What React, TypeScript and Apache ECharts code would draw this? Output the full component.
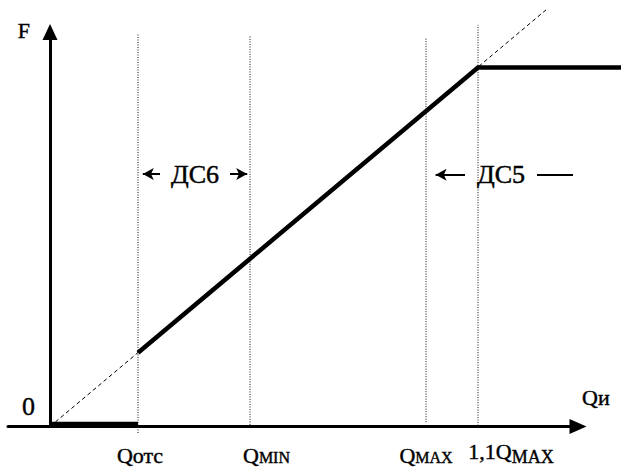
import React, { useEffect, useRef } from 'react';
import * as echarts from 'echarts';

const FONT = "'Liberation Serif', 'Times New Roman', serif";

// characteristic flow values on the Q axis (tick labels)
const qMain = ['Qотс', 'Q', 'Q', '1,1Q'];
const qSmall = ['', 'MIN', 'MAX', 'MAX'];
const qValues = [22, 50, 94, 107];
const qLineTop = [99.7, 99.2, 98.5, 101.8];
const qLineBottom = [-1.65, 0.4, 1.1, -0.4];

// F(Q) characteristic
const zeroPart: number[][] = [[0, 0.6], [22, 0.6]];
const risingPart: number[][] = [[22, 18.7], [107, 91], [144, 91]];
const proportional: number[][] = [[0, 0], [124, 105.6]];

// zone annotations
const zoneNames = ['ДС6', 'ДС5'];
const zoneCenters: number[][] = [[36.25, 64], [112.75, 63.8]];
const zoneArrows: number[][][] = [
  [[27.5, 64], [23.2, 64]],
  [[45, 64], [49.3, 64]],
  [[103.75, 63.8], [96.4, 63.8]],
];
const zoneDash: number[][] = [[121.75, 63.8], [130.75, 63.8]];

const X_MIN = -10.5;
const X_MAX = 132;
const X_MAX_FULL = 142.75;
const Y_MIN = 0;
const Y_MAX = 100;

// nudges of the Q tick labels (px)
const qLabelShift = [2, 16.5, 0, 33];
const qLabelLift = [0, 0, 0, -3.5];

export default function App() {
  const ref = useRef<HTMLDivElement>(null);
  useEffect(() => {
    if (!ref.current) return;
    const chart = echarts.init(ref.current, undefined, { renderer: 'svg' });
    const ink = { textBorderColor: '#000', textBorderWidth: 0.4 };
    const txt = { fontFamily: FONT, color: '#000' };
    const txtInk = { ...txt, ...ink };
    const gridBase = { left: 8, top: 32, bottom: 45.5, containLabel: false, outerBoundsMode: 'none' };
    const option: any = {
      animation: false,
      grid: [
        { ...gridBase, right: 43 },
        { ...gridBase, right: 0 },
      ],
      xAxis: [
        {
          type: 'value',
          gridIndex: 0,
          min: X_MIN,
          max: X_MAX,
          name: '{n|Qи}',
          nameLocation: 'end',
          nameGap: 4,
          nameTextStyle: {
            ...txt,
            align: 'left',
            verticalAlign: 'bottom',
            padding: [0, 0, 18, 0],
            rich: { n: { ...txtInk, fontSize: 22, lineHeight: 22 } },
          },
          axisLine: {
            show: true,
            onZero: true,
            symbol: ['none', 'triangle'],
            symbolSize: [15, 17],
            lineStyle: { color: '#000', width: 3 },
          },
          axisTick: { show: false },
          splitLine: { show: false },
          axisLabel: { show: false },
        },
        { type: 'value', gridIndex: 1, min: X_MIN, max: X_MAX_FULL, show: false },
      ],
      yAxis: [
        {
          type: 'value',
          gridIndex: 0,
          min: Y_MIN,
          max: Y_MAX,
          name: '{n|F}',
          nameLocation: 'end',
          nameGap: 2,
          nameTextStyle: {
            ...txt,
            align: 'right',
            verticalAlign: 'middle',
            padding: [0, 20, 0, 0],
            rich: { n: { ...txtInk, fontSize: 22, lineHeight: 22 } },
          },
          axisLine: {
            show: true,
            onZero: true,
            symbol: ['none', 'triangle'],
            symbolSize: [15, 16],
            lineStyle: { color: '#000', width: 3 },
          },
          axisTick: { show: false },
          splitLine: { show: false },
          axisLabel: { show: false },
        },
        { type: 'value', gridIndex: 1, min: Y_MIN, max: Y_MAX, show: false },
      ],
      series: [
        {
          type: 'line',
          data: proportional,
          symbol: 'none',
          clip: false,
          silent: true,
          lineStyle: { color: '#000', width: 1, type: [4, 3] },
        },
        ...qValues.map((q, i) => ({
          type: 'line',
          data: [[q, qLineBottom[i]], [q, qLineTop[i]]],
          symbol: 'none',
          clip: false,
          silent: true,
          lineStyle: { color: '#111', width: 1, type: [1, 1.5] },
        })),
        {
          type: 'line',
          data: zeroPart,
          symbol: 'none',
          clip: false,
          silent: true,
          lineStyle: { color: '#000', width: 5 },
        },
        {
          type: 'line',
          xAxisIndex: 1,
          yAxisIndex: 1,
          data: risingPart,
          symbol: 'none',
          clip: false,
          silent: true,
          lineStyle: { color: '#000', width: 4.5, join: 'miter' },
        },
        {
          type: 'line',
          data: [],
          symbol: 'none',
          silent: true,
          markLine: {
            silent: true,
            symbol: ['none', 'arrow'],
            symbolSize: [9, 11],
            label: { show: false },
            emphasis: { disabled: true },
            lineStyle: { color: '#000', width: 2, type: 'solid' },
            data: [
              ...zoneArrows.map((a) => [{ coord: a[0] }, { coord: a[1] }]),
              [
                { coord: zoneDash[0], symbol: 'none' },
                { coord: zoneDash[1], symbol: 'none' },
              ],
            ],
          },
        },
        {
          // Q tick labels under the axis
          type: 'scatter',
          data: qValues.map((q, i) => ({
            value: [q, 0],
            label: { offset: [qLabelShift[i], qLabelLift[i]] },
          })),
          symbolSize: 0,
          silent: true,
          clip: false,
          itemStyle: { color: '#000', opacity: 1 },
          label: {
            show: true,
            position: 'bottom',
            distance: 17.5,
            opacity: 1,
            ...txt,
            textBorderWidth: 0,
            formatter: (p: any) => {
              const i = p.dataIndex;
              let s = '{q|' + qMain[i] + '}';
              if (qSmall[i]) s += (i === 3 ? '{sub|' : '{s|') + qSmall[i] + '}';
              return s;
            },
            rich: {
              q: { ...txtInk, fontSize: 22, lineHeight: 22 },
              s: { ...txtInk, fontSize: 16, lineHeight: 16, padding: [5, 0, 0, 0] },
              sub: { ...txtInk, fontSize: 18, lineHeight: 18, padding: [11, 0, 0, 0] },
            },
          },
        },
        {
          type: 'scatter',
          data: zoneCenters.map((c, i) => ({ value: c, name: zoneNames[i] })),
          symbolSize: 0,
          silent: true,
          clip: false,
          itemStyle: { color: '#000', opacity: 1 },
          label: {
            show: true,
            position: [0, 0],
            align: 'center',
            verticalAlign: 'middle',
            opacity: 1,
            formatter: (p: any) => '{z|' + p.name + '}',
            ...txt,
            textBorderWidth: 0,
            rich: { z: { ...txt, textBorderColor: '#000', textBorderWidth: 0.5, fontSize: 26, lineHeight: 26 } },
          },
        },
        {
          // origin tick label "0"
          type: 'scatter',
          data: [{ value: [0, 0], name: '0' }],
          symbolSize: 0,
          silent: true,
          clip: false,
          itemStyle: { color: '#000', opacity: 1 },
          label: {
            show: true,
            position: 'left',
            distance: 15,
            offset: [0, -20],
            opacity: 1,
            formatter: (p: any) => '{z|' + p.name + '}',
            ...txt,
            textBorderWidth: 0,
            rich: { z: { ...txtInk, fontSize: 26, lineHeight: 26 } },
          },
        },
      ],
    };
    chart.setOption(option);
    return () => chart.dispose();
  }, []);
  return (
    <div
      ref={ref}
      style={{ position: 'fixed', left: 0, top: 0, width: 621, height: 472, background: '#fff' }}
    />
  );
}
